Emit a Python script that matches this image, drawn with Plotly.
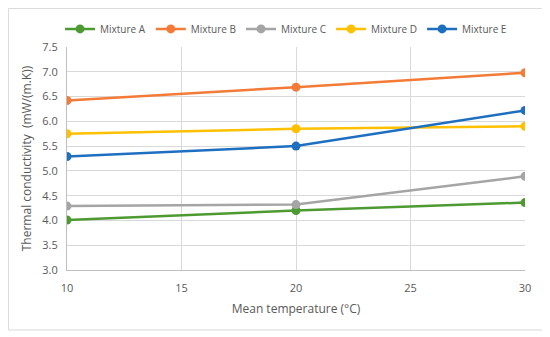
import plotly.graph_objects as go

temps = [10, 20, 30]
mix_a = [4.01, 4.20, 4.36]
mix_b = [6.42, 6.69, 6.98]
mix_c = [4.29, 4.32, 4.89]
mix_d = [5.75, 5.85, 5.90]
mix_e = [5.29, 5.50, 6.22]
names = ["Mixture A", "Mixture B", "Mixture C", "Mixture D", "Mixture E"]
series = [mix_a, mix_b, mix_c, mix_d, mix_e]
colors = ["#4E9A32", "#F47B37", "#A5A5A5", "#FFC000", "#1F6FC0"]

fig = go.Figure()
for n, s, c in zip(names, series, colors):
    fig.add_trace(go.Scatter(x=temps, y=s, name=n, mode="lines+markers",
                             line=dict(color=c, width=2.5),
                             marker=dict(color=c, size=9)))

font = dict(family="Open Sans, Liberation Sans, sans-serif", size=11, color="#595959")
fig.update_layout(
    width=542, height=329,
    margin=dict(l=59, r=25, t=39, b=67, autoexpand=False),
    paper_bgcolor="white", plot_bgcolor="white",
    font=font,
    showlegend=True,
    legend=dict(orientation="h", xref="container", yref="paper",
                x=0.513, xanchor="center", y=1.081, yanchor="middle",
                font=dict(size=10, color="#595959"), itemwidth=30, tracegroupgap=0),
    xaxis=dict(range=[10, 30], tickvals=[10, 15, 20, 25, 30], showgrid=True,
               gridcolor="#D9D9D9", gridwidth=1, showline=True, linecolor="#BFBFBF",
               zeroline=False, ticks="", ticklabelstandoff=8, automargin=False,
               title=dict(text="Mean temperature (°C)", standoff=10, font=dict(size=12))),
    yaxis=dict(range=[3.0, 7.5], tickvals=[3.0, 3.5, 4.0, 4.5, 5.0, 5.5, 6.0, 6.5, 7.0, 7.5],
               tickformat=".1f", showgrid=True, gridcolor="#D9D9D9", gridwidth=1,
               showline=True, linecolor="#BFBFBF", zeroline=False, ticks="",
               ticklabelstandoff=6, automargin=False,
               title=dict(text="Thermal conductivity  (mW/(m.K))", standoff=8, font=dict(size=12))),
    shapes=[dict(type="rect", xref="paper", yref="paper", x0=-0.128, x1=1.039,
                 y0=-0.269, y1=1.173, line=dict(color="#D9D9D9", width=1), layer="below")],
)
fig.write_html("out.html")
